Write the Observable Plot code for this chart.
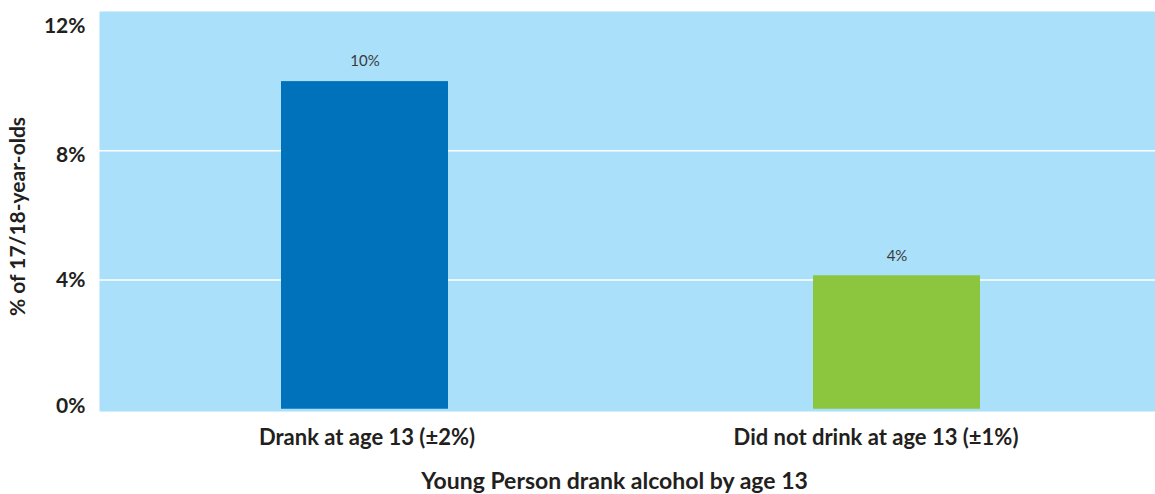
<!DOCTYPE html>
<html>
<head>
<meta charset="utf-8">
<script src="https://cdn.jsdelivr.net/npm/d3@7"></script>
<script src="https://cdn.jsdelivr.net/npm/@observablehq/plot@0.6"></script>
<style>
  html, body { margin: 0; padding: 0; background: #ffffff; }
  #chart svg { display: block; }
</style>
</head>
<body>
<div id="chart"></div>
<script>
const categories = ["Drank at age 13 (±2%)", "Did not drink at age 13 (±1%)"];
const values = [10.14, 4.13];
const valueLabels = ["10%", "4%"];
const barColors = ["#0071bb", "#8cc63f"];
const yTicks = [0, 4, 8, 12];
const gridTicks = [4, 8];
const xTitle = "Young Person drank alcohol by age 13";
const yTitle = "% of 17/18-year-olds";

const data = categories.map((c, i) => ({category: c, value: values[i], label: valueLabels[i], color: barColors[i]}));

const font = "Lato, 'Open Sans', sans-serif";
const yAxisStyle = {tickSize: 0, tickPadding: 14, tickFormat: d => d + "%", fontSize: 21, fontWeight: "bold", label: null};
const plot = Plot.plot({
  width: 1155,
  height: 494,
  marginLeft: 99,
  marginRight: 0,
  marginTop: 11,
  marginBottom: 83,
  style: {fontFamily: font, color: "#231f20", background: "#ffffff"},
  x: {domain: categories, range: [99, 1163], paddingInner: 0.686, paddingOuter: 0.343, label: null},
  y: {domain: [-0.07, 12.31], label: null},
  marks: [
    Plot.frame({fill: "#aae0fa", stroke: null}),
    Plot.ruleY(gridTicks, {stroke: "#ffffff", strokeWidth: 1.5}),
    Plot.barY(data, {x: "category", y: "value", fill: "color"}),
    Plot.text(data, {x: "category", y: "value", text: "label", dy: -20, fontSize: 15, fill: "#3a3a3a", fontFamily: font}),
    Plot.axisY([yTicks[0]], {...yAxisStyle, dy: -2.5}),
    Plot.axisY([yTicks[1]], yAxisStyle),
    Plot.axisY(yTicks.slice(2), {...yAxisStyle, dy: 4.5}),
    Plot.text([yTitle], {frameAnchor: "left", rotate: -90, textAnchor: "middle", lineAnchor: "middle", dx: -81, dy: 5, fontSize: 21, fontWeight: "bold", fill: "#231f20"}),
    Plot.axisX([categories[0]], {tickSize: 0, tickPadding: 18, dx: 2, fontSize: 22, fontWeight: "bold", label: null}),
    Plot.axisX([categories[1]], {tickSize: 0, tickPadding: 18, dx: -21, fontSize: 22, fontWeight: "bold", label: null}),
    Plot.text([xTitle], {frameAnchor: "bottom", textAnchor: "middle", lineAnchor: "middle", dx: -13, dy: 70, fontSize: 23, fontWeight: "bold", fill: "#231f20"})
  ]
});
document.getElementById("chart").appendChild(plot);
</script>
</body>
</html>
